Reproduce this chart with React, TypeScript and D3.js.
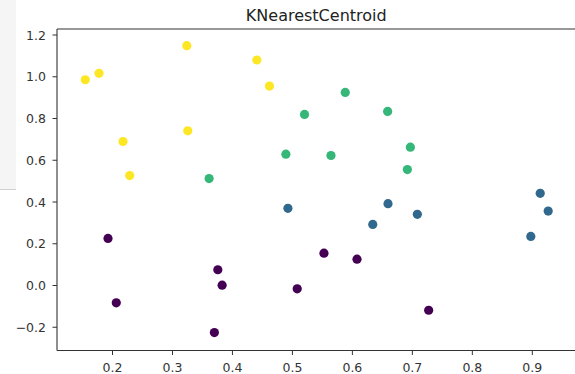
import React from "react";
import * as d3 from "d3";

const W = 575;
const H = 374;

const classNames = ["0", "1", "2", "3"];
const classColors = ["#440154", "#31688e", "#35b779", "#fde725"];

const xs0 = [0.1925, 0.2063, 0.3756, 0.3828, 0.3699, 0.508, 0.5526, 0.6077, 0.7272];
const ys0 = [0.2256, -0.0831, 0.0754, 0.0014, -0.2256, -0.0158, 0.155, 0.1263, -0.1186];
const xs1 = [0.4925, 0.6594, 0.7083, 0.634, 0.8975, 0.9132, 0.9265];
const ys1 = [0.3697, 0.3922, 0.3409, 0.2928, 0.2352, 0.4417, 0.3567];
const xs2 = [0.5202, 0.4891, 0.5643, 0.3611, 0.5881, 0.6588, 0.6967, 0.6917];
const ys2 = [0.8195, 0.6289, 0.6227, 0.5122, 0.9251, 0.8339, 0.6625, 0.5554];
const xs3 = [0.1546, 0.1775, 0.2175, 0.2287, 0.3239, 0.3255, 0.4407, 0.4618];
const ys3 = [0.9856, 1.0163, 0.6899, 0.5266, 1.1488, 0.7408, 1.0802, 0.9553];

const xTicks = [0.2, 0.3, 0.4, 0.5, 0.6, 0.7, 0.8, 0.9];
const yTicks = [-0.2, 0.0, 0.2, 0.4, 0.6, 0.8, 1.0, 1.2];

const title = "KNearestCentroid";

export default function App() {
  const left = 57, right = 575.5, top = 29, bottom = 350.5;
  const x = d3.scaleLinear().domain([0.2, 0.9]).range([112.5, 532.3]);
  const y = d3.scaleLinear().domain([0, 1.2]).range([285.5, 35]);
  const groups = [
    { xs: xs0, ys: ys0 },
    { xs: xs1, ys: ys1 },
    { xs: xs2, ys: ys2 },
    { xs: xs3, ys: ys3 },
  ];
  const font = "DejaVu Sans, sans-serif";
  const textColor = "#333";
  return (
    <svg
      width={W}
      height={H}
      style={{ position: "absolute", left: 0, top: 0, background: "#fff" }}
    >
      <rect x={0} y={0} width={16} height={189} fill="#f5f5f5" />
      <line x1={0} x2={16} y1={189.5} y2={189.5} stroke="#cfcfcf" strokeWidth={1} />
      <text
        x={(left + right) / 2}
        y={21}
        textAnchor="middle"
        fontFamily={font}
        fontSize={16}
        fill="#222"
      >
        {title}
      </text>
      {groups.map((g, gi) =>
        g.xs.map((xv, i) => (
          <circle
            key={`${gi}-${i}`}
            cx={x(xv)}
            cy={y(g.ys[i])}
            r={4.6}
            fill={classColors[gi]}
            data-class={classNames[gi]}
          />
        ))
      )}
      <line x1={left} x2={left} y1={top} y2={bottom} stroke="#333" strokeWidth={1.1} />
      <line x1={left} x2={right} y1={top} y2={top} stroke="#333" strokeWidth={1.1} />
      <line x1={left} x2={right} y1={bottom} y2={bottom} stroke="#333" strokeWidth={1.1} />
      {xTicks.map((t) => (
        <g key={`x${t}`}>
          <line x1={x(t)} x2={x(t)} y1={bottom} y2={bottom + 4.5} stroke="#333" />
          <text
            x={x(t)}
            y={372}
            textAnchor="middle"
            fontFamily={font}
            fontSize={12.5}
            fill={textColor}
          >
            {d3.format(".1f")(t)}
          </text>
        </g>
      ))}
      {yTicks.map((t) => (
        <g key={`y${t}`}>
          <line x1={left - 4.5} x2={left} y1={y(t)} y2={y(t)} stroke="#333" />
          <text
            x={46}
            y={y(t)}
            dy="0.36em"
            textAnchor="end"
            fontFamily={font}
            fontSize={12.5}
            fill={textColor}
          >
            {d3.format(".1f")(t).replace("-", "\u2212")}
          </text>
        </g>
      ))}
    </svg>
  );
}
